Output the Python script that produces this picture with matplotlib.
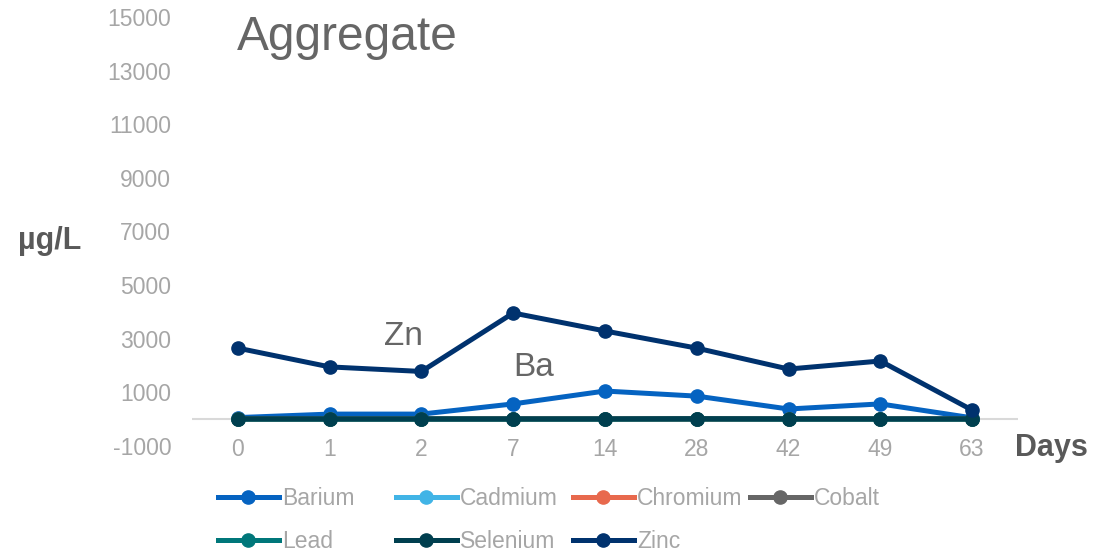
import matplotlib
matplotlib.use("Agg")
import matplotlib.pyplot as plt
from matplotlib.lines import Line2D

plt.rcParams['font.family'] = ['Liberation Sans', 'DejaVu Sans']

days = ["0", "1", "2", "7", "14", "28", "42", "49", "63"]

barium = [60, 190, 190, 570, 1050, 860, 380, 570, 50]
cadmium = [5, 5, 5, 5, 5, 5, 5, 5, 5]
chromium = [10, 10, 10, 10, 10, 15, 10, 10, 10]
cobalt = [5, 5, 5, 5, 5, 5, 5, 5, 5]
lead = [5, 5, 5, 5, 5, 10, 5, 5, 5]
selenium = [15, 15, 15, 15, 15, 20, 15, 15, 15]
zinc = [2650, 1950, 1780, 3960, 3290, 2650, 1870, 2170, 340]

series = [
    ("Barium", barium, "#0563C1"),
    ("Cadmium", cadmium, "#41B4E6"),
    ("Chromium", chromium, "#E8694D"),
    ("Cobalt", cobalt, "#666666"),
    ("Lead", lead, "#00777A"),
    ("Selenium", selenium, "#003F4F"),
    ("Zinc", zinc, "#00326E"),
]

y_ticks = list(range(-1000, 15001, 2000))

W, H = 1094, 557
fig = plt.figure(figsize=(W / 100, H / 100), dpi=100)
ax = fig.add_axes([192 / W, 1 - 446 / H, 826 / W, 429 / H])

x = list(range(len(days)))
for name, vals, color in series:
    ax.plot(x, vals, color=color, lw=3.6, marker="o", ms=9.5,
            solid_capstyle="round", label=name, zorder=3)

ax.set_xlim(-0.5, len(days) - 0.5)
ax.set_ylim(-1000, 15000)
ax.set_yticks(y_ticks)
ax.set_yticklabels([str(v) for v in y_ticks])
ax.axhline(0, color="#D9D9D9", lw=1.5, zorder=1)

ax.set_xticks(x)
ax.set_xticklabels(days)
for s in ax.spines.values():
    s.set_visible(False)
ax.tick_params(axis="both", length=0, colors="#A6A6A6", labelsize=16.5)
ax.tick_params(axis="y", pad=15)
ax.tick_params(axis="x", pad=-6)

ax.text(0.0545, 0.953, "Aggregate", transform=ax.transAxes, fontsize=34.5,
        color="#666666", ha="left", va="center")
ax.text(1.8, 3080, "Zn", fontsize=24, color="#666666", ha="center", va="center")
ax.text(3.22, 1920, "Ba", fontsize=24, color="#666666", ha="center", va="center")

fig.text(18 / W, 1 - 241 / H, "µg/L", fontsize=22, fontweight="bold",
         color="#595959", ha="left", va="center")
fig.text(1015 / W, 1 - 448 / H, "Days", fontsize=22, fontweight="bold",
         color="#595959", ha="left", va="center")

# legend laid out on a fixed grid: four columns, filled row by row
col_x = [218, 396, 573, 750]
ncols = 4
for c in range(ncols):
    items = series[c::ncols]
    handles = [Line2D([0], [0], color=col, lw=3.6, marker="o", ms=9.5)
               for _, _, col in items]
    labels = [n for n, _, _ in items]
    leg = fig.legend(handles, labels, loc="upper left",
                     bbox_to_anchor=(col_x[c] / W, 1 - 487 / H), frameon=False,
                     fontsize=16.5, handlelength=2.65, handletextpad=0.15,
                     labelspacing=0.86, borderpad=0, borderaxespad=0)
    for t in leg.get_texts():
        t.set_color("#A6A6A6")

fig.savefig("out.png", dpi=100)
